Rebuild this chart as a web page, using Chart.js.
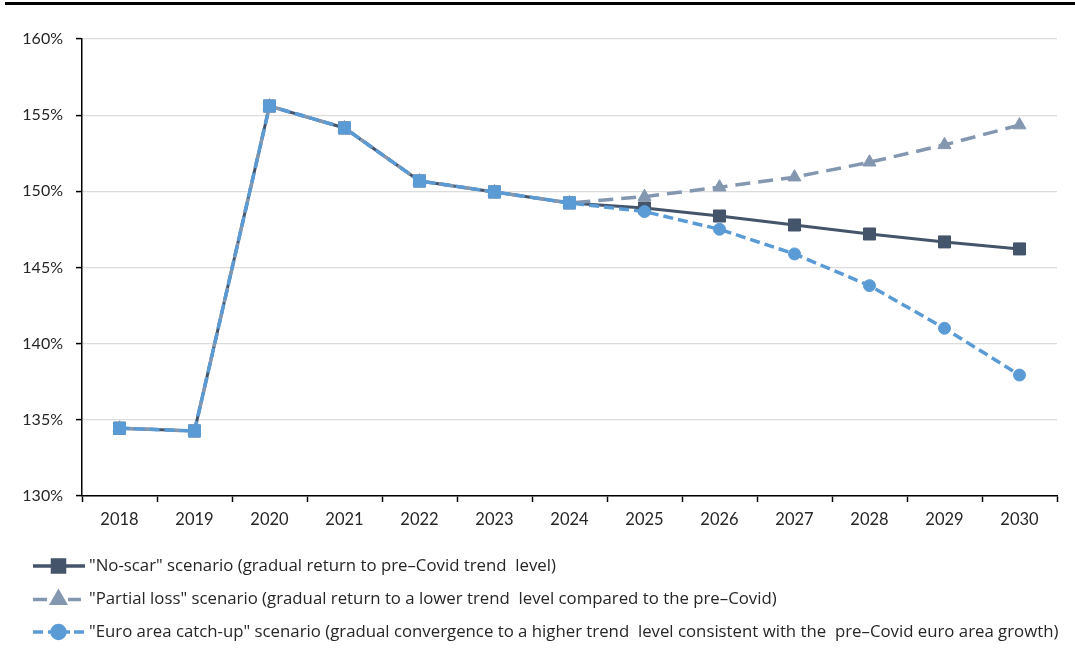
<!DOCTYPE html>
<html>
<head>
<meta charset="utf-8">
<script src="https://cdn.jsdelivr.net/npm/chart.js@4.4.1/dist/chart.umd.min.js"></script>
<style>
  html, body { margin: 0; padding: 0; background: #fff; }
  #wrap { width: 1075px; height: 650px; position: relative; }
</style>
</head>
<body>
<div id="wrap"><canvas id="chart" width="1075" height="650"></canvas></div>
<script>
// Years on the horizontal axis
const years = ['2018', '2019', '2020', '2021', '2022', '2023', '2024',
               '2025', '2026', '2027', '2028', '2029', '2030'];

// Scenario paths (per cent); 2018-2024 is shared history
const noScar      = [134.45, 134.27, 155.6, 154.16, 150.68, 149.96, 149.24, 148.91, 148.38, 147.79, 147.2, 146.68, 146.22];
const partialLoss = [134.45, 134.27, 155.6, 154.16, 150.68, 149.96, 149.24, 149.65, 150.27, 150.93, 151.91, 153.05, 154.35];
const euroCatchUp = [134.45, 134.27, 155.6, 154.16, 150.68, 149.96, 149.24, 148.67, 147.51, 145.89, 143.81, 141.01, 137.94];

// Vertical axis range and step
const yMin = 130, yMax = 160, yStep = 5;

// Legend entries
const legendLabels = [
  '"No-scar" scenario (gradual return to pre\u2013Covid trend  level)',
  '"Partial loss" scenario (gradual return to a lower trend  level compared to the pre\u2013Covid)',
  '"Euro area catch-up" scenario (gradual convergence to a higher trend  level consistent with the  pre\u2013Covid euro area growth)'
];

const TICK_FONT = 'Lato, "DejaVu Sans", sans-serif';
const LEGEND_FONT = '"Open Sans", Lato, sans-serif';
const C_DARK = '#44546A', C_GREY = '#8497B0', C_BLUE = '#5B9BD5';
const lastHistory = years.indexOf('2024');

const euroStyles = years.map((y, i) => i <= lastHistory ? 'rect' : 'circle');
const euroRadius = years.map((y, i) => i <= lastHistory ? 8.5 : 6);

// Top rule and the line-and-marker legend underneath the plot
const decorations = {
  id: 'decorations',
  afterDraw(chart) {
    const ctx = chart.ctx;
    ctx.save();
    ctx.strokeStyle = '#000';
    ctx.lineWidth = 3;
    ctx.beginPath();
    ctx.moveTo(5, 3.5);
    ctx.lineTo(1075, 3.5);
    ctx.stroke();

    const rows = [566, 599.5, 632];
    const ds = chart.data.datasets;
    const legendOrder = [2, 1, 0];
    legendOrder.forEach((di, r) => {
      const d = ds[di];
      const y = rows[r];
      ctx.save();
      ctx.strokeStyle = d.borderColor;
      ctx.lineWidth = 3.5;
      ctx.lineCap = 'butt';
      d.legendSegments.forEach(([a, b]) => {
        ctx.beginPath();
        ctx.moveTo(a, y);
        ctx.lineTo(b, y);
        ctx.stroke();
      });
      ctx.fillStyle = d.borderColor;
      Chart.helpers.drawPoint(ctx, {
        pointStyle: d.legendPoint,
        radius: d.legendPoint === 'rect' ? 8.5 : (d.legendPoint === 'triangle' ? 7.5 : 6.5),
        rotation: 0,
        borderWidth: 1
      }, 58.5, y);
      ctx.restore();

      ctx.fillStyle = '#262626';
      ctx.font = '16.8px ' + LEGEND_FONT;
      ctx.textBaseline = 'middle';
      ctx.textAlign = 'left';
      ctx.fillText(legendLabels[r], 89, y);
    });
    ctx.restore();
  }
};

new Chart(document.getElementById('chart'), {
  type: 'line',
  data: {
    labels: years,
    datasets: [
      {
        label: legendLabels[2],
        data: euroCatchUp,
        borderColor: C_BLUE,
        backgroundColor: C_BLUE,
        borderWidth: 3.5,
        borderDash: [10, 5],
        pointStyle: euroStyles,
        pointRadius: euroRadius,
        pointBorderWidth: 1,
        legendSegments: [[33, 43], [48, 70], [74, 84]],
        legendPoint: 'circle',
        tension: 0
      },
      {
        label: legendLabels[1],
        data: partialLoss,
        borderColor: C_GREY,
        backgroundColor: C_GREY,
        borderWidth: 3.5,
        borderDash: [15, 8],
        pointStyle: 'triangle',
        pointRadius: 7.5,
        pointBorderWidth: 1,
        legendSegments: [[33, 47], [68, 81]],
        legendPoint: 'triangle',
        tension: 0
      },
      {
        label: legendLabels[0],
        data: noScar,
        borderColor: C_DARK,
        backgroundColor: C_DARK,
        borderWidth: 3,
        pointStyle: 'rect',
        pointRadius: 8.5,
        pointBorderWidth: 1,
        legendSegments: [[33, 85]],
        legendPoint: 'rect',
        tension: 0
      }
    ]
  },
  options: {
    responsive: false,
    animation: false,
    devicePixelRatio: 1,
    layout: { padding: { left: 0, top: 39, right: 18, bottom: 114 } },
    plugins: {
      legend: { display: false },
      tooltip: { enabled: false }
    },
    scales: {
      x: {
        offset: true,
        grid: {
          offset: true,
          drawOnChartArea: false,
          tickColor: '#000',
          tickLength: 6,
          tickWidth: 1.5
        },
        border: { color: '#000', width: 1.5 },
        ticks: {
          color: '#262626',
          font: { family: TICK_FONT, size: 16.5 },
          padding: 8,
          maxRotation: 0
        },
        afterFit(scale) { scale.height = 40; }
      },
      y: {
        min: yMin,
        max: yMax,
        grid: {
          color: '#dcdcdc',
          lineWidth: 1.2,
          tickColor: '#000',
          tickLength: 6,
          tickWidth: 1.5
        },
        border: { color: '#000', width: 1.5 },
        ticks: {
          stepSize: yStep,
          color: '#262626',
          font: { family: TICK_FONT, size: 16 },
          padding: 13,
          callback: v => v + '%'
        },
        afterFit(scale) { scale.width = 82; }
      }
    }
  },
  plugins: [decorations]
});
</script>
</body>
</html>
